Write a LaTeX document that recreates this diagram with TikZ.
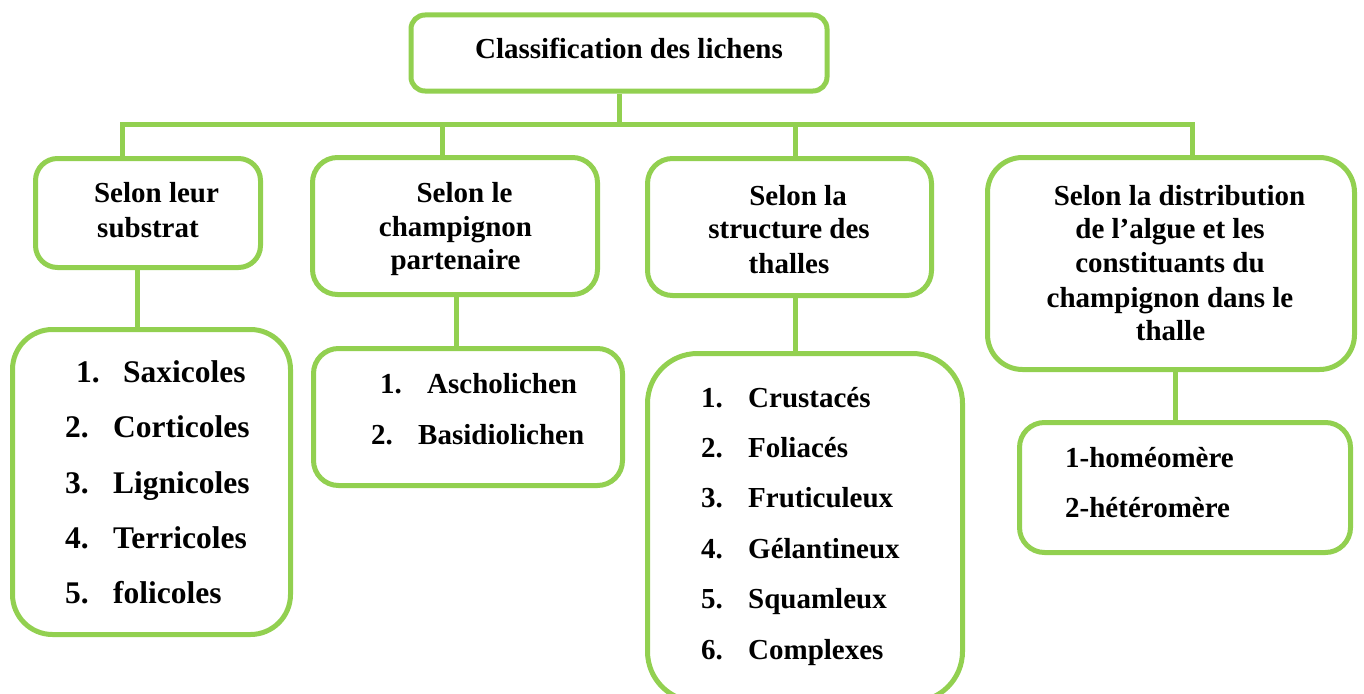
\documentclass[tikz,border=0pt]{standalone}
\usepackage{fontspec}
\setmainfont{Liberation Serif}
\definecolor{lgreen}{HTML}{92D050}
\begin{document}
\begin{tikzpicture}[x=1pt,y=-1pt,
  box/.style={draw=lgreen, line width=5pt, fill=white, inner sep=0pt, rounded corners=#1},
  conn/.style={draw=lgreen, line width=5pt},
  txt/.style={inner sep=0pt, anchor=base, font=\fontsize{29}{34}\selectfont\bfseries},
  ltxt/.style={inner sep=0pt, anchor=base west, font=\fontsize{29}{34}\selectfont\bfseries},
  bigtxt/.style={inner sep=0pt, anchor=base west, font=\fontsize{31.5}{36}\selectfont\bfseries}]
\useasboundingbox (0,0) rectangle (1364,693);
% connector columns
\coordinate (j1) at (122,124);
\coordinate (j2) at (442,124);
\coordinate (j3) at (795,124);
\coordinate (j4) at (1192,124);
\coordinate (c1) at (137,0);
\coordinate (c2) at (456,0);
\coordinate (c3) at (795,0);
\coordinate (c4) at (1175,0);
% boxes
\node[box=14pt, minimum width=416pt, minimum height=76pt] (top) at (619,53) {};
\node[box=22pt, minimum width=225pt, minimum height=109pt] (b1) at (148,213) {};
\node[box=40pt, minimum width=278pt, minimum height=305pt] (l1) at (151.5,482) {};
\node[box=25pt, minimum width=285pt, minimum height=137pt] (b2) at (455,226) {};
\node[box=25pt, minimum width=309pt, minimum height=137pt] (l2) at (468,417) {};
\node[box=25pt, minimum width=284pt, minimum height=137pt] (b3) at (789.5,227) {};
\node[box=50pt, minimum width=315pt, minimum height=348pt] (l3) at (805,527.5) {};
\node[box=35pt, minimum width=367pt, minimum height=212pt] (b4) at (1171,263.5) {};
\node[box=25pt, minimum width=331pt, minimum height=130pt] (l4) at (1185,487.5) {};
% connectors
\draw[conn] (top.south) -- (top.south |- j1);
\draw[conn] (b1.north -| j1) -- (j1) -- (j4) -- (b4.north -| j4);
\draw[conn] (j2) -- (b2.north -| j2);
\draw[conn] (j3) -- (b3.north -| j3);
\draw[conn] (b1.south -| c1) -- (l1.north -| c1);
\draw[conn] (b2.south -| c2) -- (l2.north -| c2);
\draw[conn] (b3.south -| c3) -- (l3.north -| c3);
\draw[conn] (b4.south -| c4) -- (l4.north -| c4);
% texts
\node[txt] (t0) at (629,59) {Classification des lichens};
\node[txt] (t1a) at (156.5,202) {Selon leur};
\node[txt] (t1b) at (148,237) {substrat};
\node[txt] (t2a) at (464.5,202) {Selon le};
\node[txt] (t2b) at (455.5,236) {champignon};
\node[txt] (t2c) at (455.5,269) {partenaire};
\node[txt] (t3a) at (798,205) {Selon la};
\node[txt] (t3b) at (789,238) {structure des};
\node[txt] (t3c) at (789,273) {thalles};
\node[txt] (t4a) at (1179.5,205) {Selon la distribution};
\node[txt] (t4b) at (1170,238) {de l’algue et les};
\node[txt] (t4c) at (1170,272) {constituants du};
\node[txt] (t4d) at (1170,307) {champignon dans le};
\node[txt] (t4e) at (1170.5,340) {thalle};
% list 1
\node[bigtxt] (n11) at (76,382) {1.};  \node[bigtxt] (i11) at (123,382) {Saxicoles};
\node[bigtxt] (n12) at (65,437) {2.};  \node[bigtxt] (i12) at (113,437) {Corticoles};
\node[bigtxt] (n13) at (65,493) {3.};  \node[bigtxt] (i13) at (113,493) {Lignicoles};
\node[bigtxt] (n14) at (65,548) {4.};  \node[bigtxt] (i14) at (113,548) {Terricoles};
\node[bigtxt] (n15) at (65,603) {5.};  \node[bigtxt] (i15) at (113,603) {folicoles};
% list 2
\node[ltxt] (n21) at (380,393) {1.};  \node[ltxt] (i21) at (427,393) {Ascholichen};
\node[ltxt] (n22) at (371,444) {2.};  \node[ltxt] (i22) at (418,444) {Basidiolichen};
% list 3
\node[ltxt] (n31) at (701,407) {1.};  \node[ltxt] (i31) at (748,407) {Crustacés};
\node[ltxt] (n32) at (701,457) {2.};  \node[ltxt] (i32) at (748,457) {Foliacés};
\node[ltxt] (n33) at (701,507) {3.};  \node[ltxt] (i33) at (748,507) {Fruticuleux};
\node[ltxt] (n34) at (701,558) {4.};  \node[ltxt] (i34) at (748,558) {Gélantineux};
\node[ltxt] (n35) at (701,608) {5.};  \node[ltxt] (i35) at (748,608) {Squamleux};
\node[ltxt] (n36) at (701,659) {6.};  \node[ltxt] (i36) at (748,659) {Complexes};
% list 4
\node[ltxt] (i41) at (1065,467) {1-homéomère};
\node[ltxt] (i42) at (1065,517) {2-hétéromère};
\end{tikzpicture}
\end{document}
